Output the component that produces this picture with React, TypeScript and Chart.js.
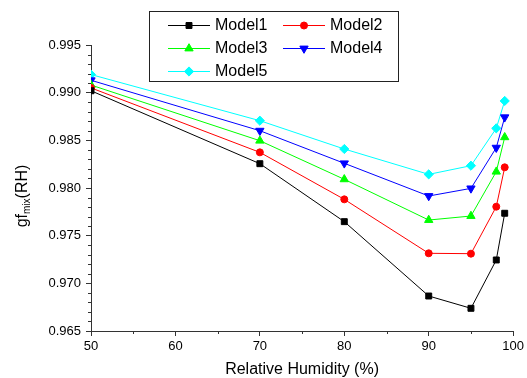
import React, { useEffect, useRef } from "react";
import { Chart, registerables } from "chart.js";
import { drawPoint } from "chart.js/helpers";

Chart.register(...registerables);

const humidity = [50, 70, 80, 90, 95, 98, 99];
const model1 = [0.9902, 0.98255, 0.97647, 0.96867, 0.96738, 0.97245, 0.97735];
const model2 = [0.9905, 0.98374, 0.97881, 0.97315, 0.97311, 0.97804, 0.98217];
const model3 = [0.9908, 0.98496, 0.98091, 0.97664, 0.97706, 0.98171, 0.98532];
const model4 = [0.9913, 0.98601, 0.98259, 0.97916, 0.97996, 0.98423, 0.98742];
const model5 = [0.9919, 0.98706, 0.98409, 0.98143, 0.98234, 0.98626, 0.98913];
const seriesNames = ["Model1", "Model2", "Model3", "Model4", "Model5"];
const yMin = 0.965;
const yMax = 0.995;
const xMin = 50;
const xMax = 100;

const FONT = "'Liberation Sans', Arial, sans-serif";

const styles = [
  { color: "#000000", pointStyle: "rect", radius: 4.2, rotation: 0 },
  { color: "#ff0000", pointStyle: "circle", radius: 3.5, rotation: 0 },
  { color: "#00ff00", pointStyle: "triangle", radius: 4.8, rotation: 0 },
  { color: "#0000ff", pointStyle: "triangle", radius: 4.8, rotation: 180 },
  { color: "#00ffff", pointStyle: "rectRot", radius: 4.6, rotation: 0 },
];

const extrasPlugin = {
  id: "extras",
  afterDraw(chart: any) {
    const ctx = chart.ctx;
    const xs = chart.scales.x;
    const ys = chart.scales.y;
    const area = chart.chartArea;
    ctx.save();
    // minor ticks
    ctx.strokeStyle = "#333";
    ctx.lineWidth = 1;
    ctx.beginPath();
    for (let i = 1; i < 30; i++) {
      if (i % 5 === 0) continue;
      const v = yMin + i * 0.001;
      const py = Math.round(ys.getPixelForValue(v)) + 0.5;
      ctx.moveTo(area.left - 3, py);
      ctx.lineTo(area.left, py);
    }
    for (let v = 55; v < 100; v += 10) {
      const px = Math.round(xs.getPixelForValue(v)) + 0.5;
      ctx.moveTo(px, area.bottom);
      ctx.lineTo(px, area.bottom + 3);
    }
    ctx.stroke();

    // x title
    ctx.fillStyle = "#000";
    ctx.font = `16px ${FONT}`;
    ctx.textAlign = "center";
    ctx.textBaseline = "middle";
    ctx.fillText("Relative Humidity (%)", (area.left + area.right) / 2, 370);

    // y title with subscript
    ctx.save();
    ctx.translate(27, 196);
    ctx.rotate(-Math.PI / 2);
    ctx.textAlign = "left";
    ctx.textBaseline = "alphabetic";
    ctx.font = `16px ${FONT}`;
    const w1 = ctx.measureText("gf").width;
    const w3 = ctx.measureText("(RH)").width;
    ctx.font = `10px ${FONT}`;
    const w2 = ctx.measureText("mix").width;
    let x0 = -(w1 + w2 + w3) / 2;
    ctx.font = `16px ${FONT}`;
    ctx.fillText("gf", x0, 0);
    x0 += w1;
    ctx.font = `10px ${FONT}`;
    ctx.fillText("mix", x0, 3);
    x0 += w2;
    ctx.font = `16px ${FONT}`;
    ctx.fillText("(RH)", x0, 0);
    ctx.restore();

    // legend
    const bx = 149.5, by = 11.5, bw = 249, bh = 70;
    ctx.fillStyle = "#fff";
    ctx.fillRect(bx, by, bw, bh);
    ctx.strokeStyle = "#222";
    ctx.lineWidth = 1;
    ctx.strokeRect(bx, by, bw, bh);
    const rowsY = [25, 48, 71];
    const colX = [168, 283];
    chart.data.datasets.forEach((ds: any, i: number) => {
      const col = i % 2;
      const row = Math.floor(i / 2);
      const lx = colX[col];
      const ly = rowsY[row];
      ctx.strokeStyle = ds.borderColor;
      ctx.lineWidth = 1;
      ctx.beginPath();
      ctx.moveTo(lx, ly + 0.5);
      ctx.lineTo(lx + 42, ly + 0.5);
      ctx.stroke();
      ctx.fillStyle = ds.pointBackgroundColor;
      ctx.strokeStyle = ds.pointBorderColor;
      drawPoint(
        ctx,
        { pointStyle: ds.pointStyle, radius: ds.pointRadius, rotation: ds.pointRotation, borderWidth: 1 },
        lx + 21,
        ly + 0.5
      );
      ctx.fillStyle = "#000";
      ctx.font = `16px ${FONT}`;
      ctx.textAlign = "left";
      ctx.textBaseline = "middle";
      ctx.fillText(ds.label, lx + 47, ly + 1);
    });
    ctx.restore();
  },
};

export default function App() {
  const ref = useRef<HTMLCanvasElement | null>(null);
  useEffect(() => {
    if (!ref.current) return;
    const all = [model1, model2, model3, model4, model5];
    const chart = new Chart(ref.current, {
      type: "line",
      data: {
        datasets: all.map((vals, i) => ({
          label: seriesNames[i],
          data: humidity.map((h, j) => ({ x: h, y: vals[j] })),
          borderColor: styles[i].color,
          backgroundColor: styles[i].color,
          pointBackgroundColor: styles[i].color,
          pointBorderColor: styles[i].color,
          borderWidth: 1,
          pointStyle: styles[i].pointStyle as any,
          pointRadius: styles[i].radius,
          pointRotation: styles[i].rotation,
          pointBorderWidth: 1,
          tension: 0,
          fill: false,
        })),
      },
      options: {
        animation: false,
        responsive: false,
        maintainAspectRatio: false,
        layout: { padding: { top: 45, right: 10, left: 0, bottom: 0 } },
        plugins: { legend: { display: false }, tooltip: { enabled: false } },
        scales: {
          x: {
            type: "linear",
            min: xMin,
            max: xMax,
            ticks: {
              stepSize: 10,
              padding: 3,
              color: "#000",
              font: { family: FONT, size: 13 },
              maxRotation: 0,
            },
            grid: { display: true, drawOnChartArea: false, drawTicks: true, tickLength: 5, color: "#333" },
            border: { display: true, color: "#333", width: 1 },
            afterFit: (s: any) => {
              s.height = 47;
            },
          },
          y: {
            type: "linear",
            min: yMin,
            max: yMax,
            ticks: {
              stepSize: 0.005,
              padding: 5,
              color: "#000",
              font: { family: FONT, size: 13 },
              callback: (v: any) => Number(v).toFixed(3),
            },
            grid: { display: true, drawOnChartArea: false, drawTicks: true, tickLength: 5, color: "#333" },
            border: { display: true, color: "#333", width: 1 },
            afterFit: (s: any) => {
              s.width = 91;
            },
          },
        },
      },
      plugins: [extrasPlugin],
    });
    return () => chart.destroy();
  }, []);
  return (
    <div style={{ position: "fixed", left: 0, top: 0, width: 527, height: 378, background: "#fff" }}>
      <canvas ref={ref} width={527} height={378} style={{ width: 527, height: 378 }} />
    </div>
  );
}
